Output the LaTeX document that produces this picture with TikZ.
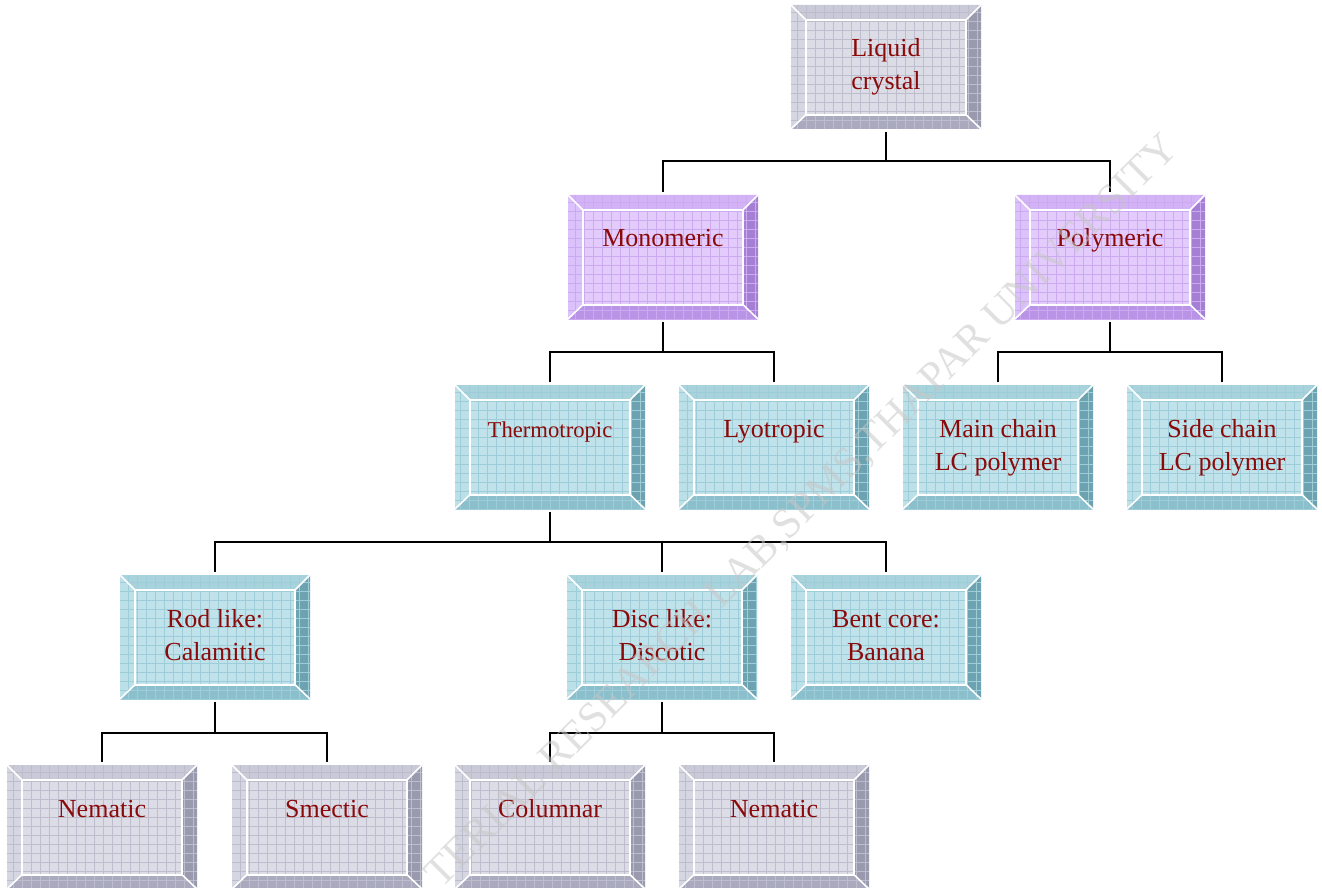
\documentclass[tikz,border=0pt]{standalone}
\usepackage{fontspec}
\setmainfont{Liberation Serif}
\usetikzlibrary{calc}
\definecolor{txt}{HTML}{8A0A0A}
% gray scheme
\definecolor{lcF}{HTML}{DCDCE6}\definecolor{lcT}{HTML}{C9C9D8}\definecolor{lcL}{HTML}{D6D6E2}
\definecolor{lcR}{HTML}{9A9AAE}\definecolor{lcB}{HTML}{AAAABE}\definecolor{lcG}{HTML}{BDBDCE}
% purple scheme
\definecolor{puF}{HTML}{E3CCFB}\definecolor{puT}{HTML}{D3B2F5}\definecolor{puL}{HTML}{DCC2FA}
\definecolor{puR}{HTML}{A47FD4}\definecolor{puB}{HTML}{B893E6}\definecolor{puG}{HTML}{CBAAF1}
% teal scheme
\definecolor{teF}{HTML}{C0E2EA}\definecolor{teT}{HTML}{A8D2DC}\definecolor{teL}{HTML}{BCE0E8}
\definecolor{teR}{HTML}{6DA3B0}\definecolor{teB}{HTML}{8BBFCB}\definecolor{teG}{HTML}{9DCDD8}
\newcommand\twoline[2]{\vtop{\halign{\hfil##\hfil\cr#1\cr#2\cr}}}
\tikzset{
  bevel/.style={rectangle, inner sep=0pt, outer sep=2pt,
    minimum width=142.5pt, minimum height=93pt,
    text height=15pt, text depth=30pt,
    text=txt, font=\fontsize{19.5}{24.75}\selectfont,
    fill=#1F,
    path picture={
      \path (path picture bounding box.north west) coordinate (bNW)
            (path picture bounding box.north east) coordinate (bNE)
            (path picture bounding box.south west) coordinate (bSW)
            (path picture bounding box.south east) coordinate (bSE)
            ($(bNW)+(11pt,-11pt)$) coordinate (iNW)
            ($(bNE)+(-11pt,-11pt)$) coordinate (iNE)
            ($(bSW)+(11pt,10.5pt)$) coordinate (iSW)
            ($(bSE)+(-11pt,10.5pt)$) coordinate (iSE);
      \fill[#1T] (bNW) -- (bNE) -- (iNE) -- (iNW) -- cycle;
      \fill[#1L] (bNW) -- (iNW) -- (iSW) -- (bSW) -- cycle;
      \fill[#1R] (bNE) -- (bSE) -- (iSE) -- (iNE) -- cycle;
      \fill[#1B] (bSW) -- (iSW) -- (iSE) -- (bSE) -- cycle;
      \draw[#1G, line width=0.35pt, step=6.75pt] (bSW) grid (bNE);
      \draw[white, line width=1.4pt] (iNW) rectangle (iSE);
      \draw[white, line width=1.2pt] (bNW) -- (iNW) (bNE) -- (iNE) (bSW) -- (iSW) (bSE) -- (iSE);
    }},
  conn/.style={draw=black, line width=1.5pt},
  wm/.style={text=gray!45, opacity=0.55, font=\fontsize{32}{36}\selectfont, inner sep=0pt}
}
\begin{document}
\begin{tikzpicture}[x=0.75pt,y=-0.75pt]
\useasboundingbox (0,0) rectangle (1322,888);
% row 1
\node[bevel=lc] (lc) at (886,67) {\twoline{Liquid}{crystal}};
% row 2
\node[bevel=pu] (mono) at (663,257) {Monomeric};
\node[bevel=pu] (poly) at (1110,257) {Polymeric};
% row 3
\node[bevel=te, font=\fontsize{17}{21}\selectfont] (thermo) at (550,447) {Thermotropic};
\node[bevel=te] (lyo) at (774,447) {Lyotropic};
\node[bevel=te] (main) at (998,447) {\twoline{Main chain}{LC polymer}};
\node[bevel=te] (side) at (1222,447) {\twoline{Side chain}{LC polymer}};
% row 4
\node[bevel=te] (rod) at (215,637) {\twoline{Rod like:}{Calamitic}};
\node[bevel=te] (disc) at (662,637) {\twoline{Disc like:}{Discotic}};
\node[bevel=te] (bent) at (886,637) {\twoline{Bent core:}{Banana}};
% row 5
\node[bevel=lc] (nem1) at (102,827) {Nematic};
\node[bevel=lc] (smec) at (327,827) {Smectic};
\node[bevel=lc] (col) at (550,827) {Columnar};
\node[bevel=lc] (nem2) at (774,827) {Nematic};
% bus levels
\coordinate (bus1) at (0,161);
\coordinate (bus2) at (0,352);
\coordinate (bus3) at (0,542);
\coordinate (bus4) at (0,733);
% connectors
\draw[conn] (lc.south) -- (lc.south |- bus1) -| (mono.north);
\draw[conn] (lc.south |- bus1) -| (poly.north);
\draw[conn] (mono.south) -- (mono.south |- bus2) -| (thermo.north);
\draw[conn] (mono.south |- bus2) -| (lyo.north);
\draw[conn] (poly.south) -- (poly.south |- bus2) -| (main.north);
\draw[conn] (poly.south |- bus2) -| (side.north);
\draw[conn] (thermo.south) -- (thermo.south |- bus3) -| (rod.north);
\draw[conn] (thermo.south |- bus3) -| (disc.north);
\draw[conn] (thermo.south |- bus3) -| (bent.north);
\draw[conn] (rod.south) -- (rod.south |- bus4) -| (nem1.north);
\draw[conn] (rod.south |- bus4) -| (smec.north);
\draw[conn] (disc.south) -- (disc.south |- bus4) -| (col.north);
\draw[conn] (disc.south |- bus4) -| (nem2.north);
% watermark
\node[wm, rotate=45] (mark) at (803,512) {TERIAL RESEARCH LAB,SPMS,THAPAR UNIVERSITY};
\end{tikzpicture}
\end{document}
